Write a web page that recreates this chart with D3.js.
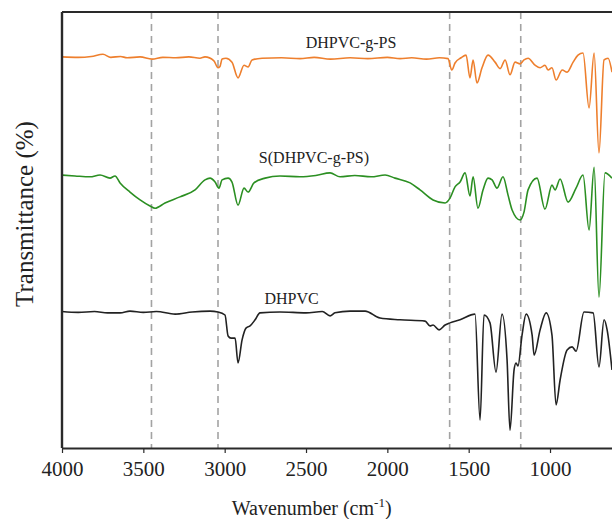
<!DOCTYPE html>
<html>
<head>
<meta charset="utf-8">
<script src="https://cdn.jsdelivr.net/npm/d3@7"></script>
<style>
  body { margin: 0; background: #fff; }
  text { font-family: "Liberation Serif", "Times New Roman", serif; fill: #222; }
</style>
</head>
<body>
<div id="chart"></div>
<script>
const SERIES_NAMES = ["DHPVC-g-PS", "S(DHPVC-g-PS)", "DHPVC"];
const X_TICKS = [4000, 3500, 3000, 2500, 2000, 1500, 1000];
const MARKER_LINES = [3450, 3041, 1617, 1180];

// [wavenumber (cm-1), transmittance (offset, a.u.)]
const dhpvcGPS = [
  [4000, 89.7], [3900, 89.6], [3820, 89.8], [3748, 90.3], [3700, 89.6],
  [3640, 89.8], [3600, 89.5], [3520, 89.7], [3447, 89.2], [3380, 89.6],
  [3300, 89.5], [3220, 89.7], [3152, 89.4], [3121, 89.7], [3066, 88.8],
  [3041, 87.2], [3029, 87.5], [3016, 89.2], [2992, 89.4], [2955, 88.5],
  [2918, 84.9], [2881, 87.8], [2856, 87.4], [2832, 89.0], [2770, 89.4],
  [2650, 89.5], [2537, 89.3], [2450, 89.6], [2350, 89.2], [2229, 89.5],
  [2120, 89.3], [2000, 89.6], [1922, 89.3], [1850, 89.5], [1760, 89.2],
  [1680, 89.5], [1627, 89.3], [1604, 86.7], [1584, 88.3], [1547, 89.5],
  [1516, 90.1], [1492, 84.9], [1473, 89.0], [1449, 83.7], [1418, 87.2],
  [1381, 90.1], [1338, 88.5], [1307, 87.0], [1276, 89.0], [1246, 85.6],
  [1215, 88.5], [1184, 88.1], [1160, 89.0], [1135, 89.4], [1092, 87.8],
  [1061, 87.2], [1031, 87.8], [1012, 86.7], [988, 87.2], [963, 84.4],
  [925, 86.7], [895, 86.2], [858, 88.5], [828, 90.1], [797, 90.6],
  [760, 78.0], [729, 90.6], [699, 67.7], [668, 89.0], [643, 89.4],
  [619, 86.2],
];

const sDhpvcGPS = [
  [4000, 62.6], [3920, 62.4], [3828, 62.2], [3766, 62.6], [3705, 61.9],
  [3674, 62.4], [3643, 60.8], [3582, 58.7], [3520, 56.9], [3459, 55.5],
  [3428, 55.0], [3367, 56.2], [3275, 57.6], [3182, 59.2], [3121, 61.5],
  [3090, 61.9], [3059, 61.0], [3035, 59.6], [3016, 61.5], [2979, 61.9],
  [2955, 61.0], [2918, 55.7], [2881, 59.6], [2856, 58.7], [2820, 60.8],
  [2752, 61.9], [2660, 62.4], [2537, 62.2], [2440, 62.5], [2352, 63.1],
  [2291, 62.2], [2200, 62.5], [2100, 62.2], [2014, 62.6], [1953, 61.9],
  [1860, 60.8], [1799, 59.2], [1719, 56.9], [1645, 56.2], [1615, 57.3],
  [1584, 59.9], [1553, 61.0], [1522, 63.1], [1492, 57.8], [1473, 62.2],
  [1443, 55.0], [1412, 59.2], [1381, 61.9], [1356, 61.5], [1326, 59.6],
  [1289, 62.2], [1258, 58.0], [1233, 54.6], [1184, 52.3], [1160, 54.1],
  [1135, 59.2], [1080, 61.9], [1031, 54.8], [988, 60.3], [969, 59.2],
  [938, 61.7], [889, 56.4], [840, 59.6], [797, 62.6], [760, 50.0],
  [729, 64.4], [699, 34.6], [662, 63.1], [619, 61.9],
];

const dhpvc = [
  [4000, 31.3], [3900, 31.1], [3800, 31.3], [3720, 31.0], [3643, 31.0],
  [3582, 31.4], [3500, 31.1], [3420, 31.3], [3305, 30.7], [3200, 31.2],
  [3090, 31.4], [3041, 31.2], [2998, 30.5], [2979, 25.7], [2961, 25.2],
  [2936, 25.2], [2918, 19.5], [2893, 24.8], [2869, 27.5], [2844, 28.0],
  [2813, 29.4], [2783, 31.0], [2660, 31.2], [2500, 31.0], [2400, 31.3],
  [2352, 30.3], [2322, 31.0], [2229, 31.4], [2137, 31.4], [2045, 29.8],
  [1922, 29.4], [1768, 29.1], [1738, 28.0], [1719, 28.2], [1682, 27.1],
  [1645, 28.2], [1615, 28.7], [1553, 29.4], [1461, 30.7], [1430, 6.4],
  [1406, 30.5], [1369, 28.7], [1332, 17.4], [1295, 30.7], [1264, 20.2],
  [1246, 4.1], [1221, 17.9], [1209, 19.5], [1197, 18.8], [1172, 25.9],
  [1147, 30.7], [1110, 25.9], [1098, 21.3], [1061, 27.1], [1024, 31.0],
  [988, 25.9], [963, 9.9], [938, 15.6], [895, 22.5], [864, 23.2],
  [840, 22.2], [791, 31.2], [735, 31.0], [699, 18.6], [668, 29.4],
  [649, 27.1], [619, 17.9],
];

const SERIES = [dhpvcGPS, sDhpvcGPS, dhpvc];
const COLORS = ["#ee7f2d", "#2b8f22", "#222222"];
const SERIF = '"Liberation Serif", "Times New Roman", serif';

const margin = { top: 12, left: 62, right: 0, bottom: 71 },
  totalWidth = 612,
  totalHeight = 519,
  width = totalWidth - margin.left - margin.right,
  height = totalHeight - margin.top - margin.bottom;

const svg = d3
  .select("#chart")
  .append("svg")
  .attr("width", totalWidth)
  .attr("height", totalHeight)
  .attr("font-family", SERIF);

const g = svg
  .append("g")
  .attr("transform", `translate(${margin.left}, ${margin.top})`);

const xScale = d3.scaleLinear().domain([4000, 619]).range([0, width]);
const yScale = d3.scaleLinear().domain([0, 100]).range([height, 0]);

// dashed guide lines
g.selectAll(".marker")
  .data(MARKER_LINES)
  .join("line")
  .attr("class", "marker")
  .attr("x1", (d) => xScale(d))
  .attr("x2", (d) => xScale(d))
  .attr("y1", 0)
  .attr("y2", height)
  .attr("stroke", "#a3a3a3")
  .attr("stroke-width", 1.6)
  .attr("stroke-dasharray", "7,5");

// spectra
const line = d3
  .line()
  .x((d) => xScale(d[0]))
  .y((d) => yScale(d[1]))
  .curve(d3.curveMonotoneX);

g.selectAll(".spectrum")
  .data(SERIES)
  .join("path")
  .attr("class", "spectrum")
  .attr("d", line)
  .attr("fill", "none")
  .attr("stroke", (d, i) => COLORS[i])
  .attr("stroke-width", 1.6)
  .attr("stroke-linejoin", "round");

// curve labels
const labelAnchors = [
  [2223, 91.7],
  [2451, 65.3],
  [2589, 33.0],
];
g.selectAll(".curve-label")
  .data(SERIES_NAMES)
  .join("text")
  .attr("class", "curve-label")
  .attr("x", (d, i) => xScale(labelAnchors[i][0]))
  .attr("y", (d, i) => yScale(labelAnchors[i][1]))
  .attr("text-anchor", "middle")
  .style("font-size", "16px")
  .text((d) => d);

// axes
const xAxis = d3
  .axisBottom(xScale)
  .tickValues(X_TICKS)
  .tickFormat(d3.format("d"))
  .tickSize(5)
  .tickSizeOuter(0)
  .tickPadding(8);

const drawnXAxis = g
  .append("g")
  .attr("class", "x-axis")
  .attr("transform", `translate(0, ${height})`)
  .call(xAxis)
  .attr("font-family", SERIF)
  .attr("font-size", 21);

drawnXAxis.select(".domain").attr("stroke", "#2a2a2a").attr("stroke-width", 2);
drawnXAxis.selectAll(".tick line").attr("stroke", "#2a2a2a").attr("stroke-width", 1.2);
drawnXAxis.selectAll(".tick text").attr("fill", "#222");

// left axis and top frame
g.append("line")
  .attr("x1", 0)
  .attr("x2", 0)
  .attr("y1", 0)
  .attr("y2", height)
  .attr("stroke", "#2a2a2a")
  .attr("stroke-width", 2.4);

g.append("line")
  .attr("x1", 0)
  .attr("x2", width + 5)
  .attr("y1", 0)
  .attr("y2", 0)
  .attr("stroke", "#2a2a2a")
  .attr("stroke-width", 2);

// axis titles
const xTitle = svg
  .append("text")
  .attr("x", margin.left + xScale(2465))
  .attr("y", 515)
  .attr("text-anchor", "middle")
  .style("font-size", "20px");
xTitle.append("tspan").text("Wavenumber (cm");
xTitle
  .append("tspan")
  .attr("dy", -8)
  .style("font-size", "13px")
  .text("-1");
xTitle.append("tspan").attr("dy", 8).text(")");

svg
  .append("text")
  .attr("transform", `translate(33, 214) rotate(-90)`)
  .attr("text-anchor", "middle")
  .style("font-size", "25px")
  .text("Transmittance (%)");
</script>
</body>
</html>
